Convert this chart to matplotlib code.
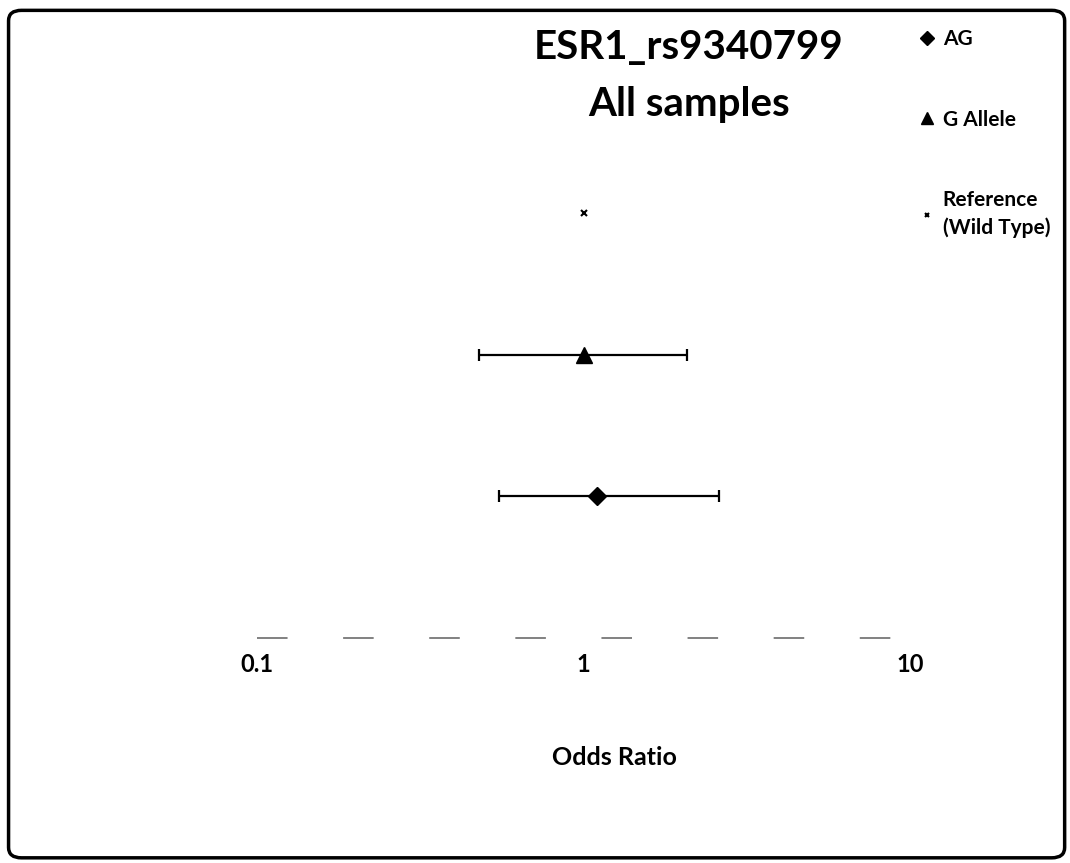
import numpy as np
import matplotlib.pyplot as plt
from matplotlib.patches import FancyBboxPatch

plt.rcParams['font.family'] = ['Lato', 'DejaVu Sans']
plt.rcParams['lines.scale_dashes'] = False

# forest plot data (odds ratio, 95% CI)
labels = ['AG', 'G Allele', 'Reference\n(Wild Type)']
odds = [1.10, 1.00, 1.00]
ci_low = [0.55, 0.48, 1.00]
ci_high = [2.60, 2.07, 1.00]
ypos = [1, 2, 3]
markers = ['D', '^', 'x']
msizes = [9, 11, 4]
xticks = [0.1, 1, 10]
xticklabels = ['0.1', '1', '10']

fig = plt.figure(figsize=(10.7, 8.63), dpi=100)
fig.patch.set_facecolor('white')
ax = fig.add_axes([0.2402, 0.2607, 0.6103, 0.657])

for i in range(len(labels)):
    if ci_high[i] > ci_low[i]:
        err = [[odds[i] - ci_low[i]], [ci_high[i] - odds[i]]]
        ax.errorbar([odds[i]], [ypos[i]], xerr=err, fmt='none', ecolor='black',
                    elinewidth=1.6, capsize=4, capthick=1.6)
    ax.plot([odds[i]], [ypos[i]], linestyle='none', marker=markers[i], color='black',
            ms=msizes[i], mew=1.5 if markers[i] == 'x' else 1, label=labels[i])

ax.set_xscale('log')
ax.set_xlim(0.1, 10)
ax.set_ylim(0, 4)
ax.set_xticks(xticks)
ax.set_xticklabels(xticklabels, fontsize=17, fontweight='bold')
ax.minorticks_off()
ax.tick_params(axis='x', length=0, pad=11)
ax.set_yticks([])
for s in ['top', 'right', 'left', 'bottom']:
    ax.spines[s].set_visible(False)
ax.axhline(0, color='#777777', lw=1.3, linestyle=(0, (22, 40)), clip_on=False)
ax.set_xlabel('Odds Ratio', fontsize=18, fontweight='bold')
ax.xaxis.set_label_coords(0.548, -0.19)

fig.text(0.644, 0.966, 'ESR1_rs9340799\nAll samples', ha='center', va='top',
         fontsize=29, fontweight='bold', linespacing=1.65)

handles, labs = ax.get_legend_handles_labels()
leg = fig.legend(handles, labs, loc='upper left', bbox_to_anchor=(0.843, 0.988),
                 frameon=False, fontsize=15, labelspacing=2.9, handlelength=0.6,
                 handletextpad=0.45, markerscale=0.75)
for t in leg.get_texts():
    t.set_fontweight('bold')
    t.set_multialignment('left')
    t.set_linespacing(1.45)

fig.patches.append(FancyBboxPatch((0.008, 0.006), 0.987, 0.982,
                                  boxstyle='round,pad=0,rounding_size=0.012',
                                  transform=fig.transFigure, fill=False,
                                  edgecolor='black', lw=2.5))

fig.savefig('out.png', dpi=100)
